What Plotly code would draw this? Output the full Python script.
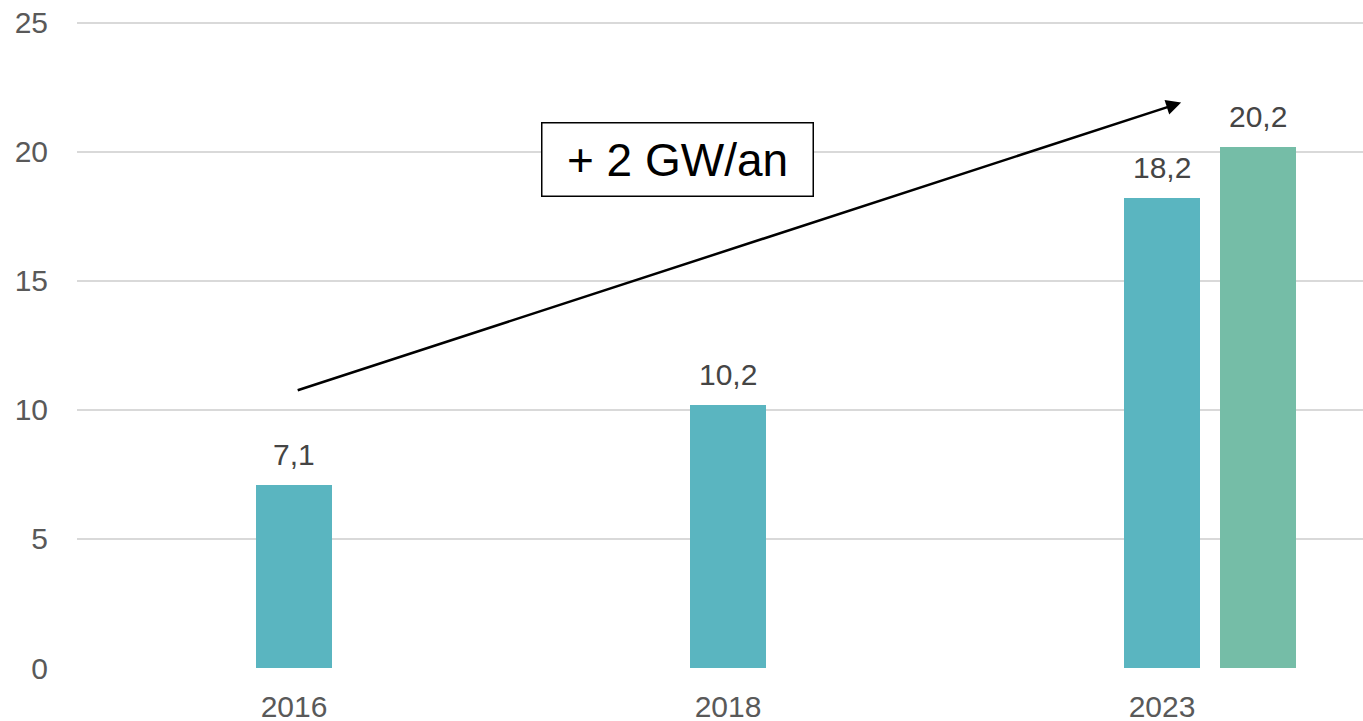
import plotly.graph_objects as go

categories = ["2016", "2018", "2023"]
cat_pos = [0, 1, 2]
teal_values = [7.1, 10.2, 18.2]
green_category = "2023"
green_value = 20.2
green_offset = 0.221
box_text = "+ 2 GW/an"
y_ticks = [0, 5, 10, 15, 20, 25]

TEAL = "#5AB5C0"
GREEN = "#75BDA7"
BAR_W = 0.175

green_x = cat_pos[categories.index(green_category)] + green_offset

fig = go.Figure()
fig.add_trace(go.Bar(x=cat_pos, y=teal_values, width=BAR_W,
                     marker=dict(color=TEAL, line=dict(width=0)), showlegend=False,
                     hoverinfo="skip"))
fig.add_trace(go.Bar(x=[green_x], y=[green_value], width=BAR_W,
                     marker=dict(color=GREEN, line=dict(width=0)), showlegend=False,
                     hoverinfo="skip"))

annotations = []
label_x = cat_pos + [green_x]
label_y = teal_values + [green_value]
for xv, yv in zip(label_x, label_y):
    annotations.append(dict(x=xv, y=yv, xref="x", yref="y",
                            text=f"{yv:.1f}".replace(".", ","),
                            showarrow=False, yanchor="bottom", yshift=12,
                            font=dict(family="Liberation Sans, Arial", size=30, color="#454545")))

# trend arrow
annotations.append(dict(x=2.044, y=21.9, ax=0.005, ay=10.74, xref="x", yref="y",
                        axref="x", ayref="y", text="", showarrow=True,
                        arrowhead=2, arrowsize=1.2, arrowwidth=2.5, arrowcolor="black"))
# boxed text
annotations.append(dict(x=0.884, y=19.71, xref="x", yref="y", text=box_text,
                        showarrow=False, width=270, height=72, borderpad=0,
                        bordercolor="black", borderwidth=1.5, bgcolor="white",
                        font=dict(family="Liberation Sans, Arial", size=46, color="black")))

fig.update_layout(
    width=1363, height=721,
    margin=dict(l=77, r=0, t=20, b=53),
    plot_bgcolor="white", paper_bgcolor="white",
    bargap=0,
    annotations=annotations,
    font=dict(family="Liberation Sans, Arial", size=30, color="#595959"),
)
fig.update_xaxes(range=[-0.5, 2.463], tickvals=cat_pos, ticktext=categories,
                 showgrid=False, zeroline=False, showline=False, automargin=False,
                 ticks="", ticklabelstandoff=18,
                 tickfont=dict(size=30, color="#595959"))
fig.update_yaxes(range=[0, 25.1], tickvals=y_ticks, showgrid=True,
                 gridcolor="#D9D9D9", gridwidth=1.5, zeroline=False, automargin=False,
                 showline=False, ticks="", ticklabelstandoff=28,
                 tickfont=dict(size=30, color="#595959"))

fig.write_html("out.html", config={"displayModeBar": False},
               post_script="document.body.style.margin='0px';document.body.style.overflow='hidden';")
